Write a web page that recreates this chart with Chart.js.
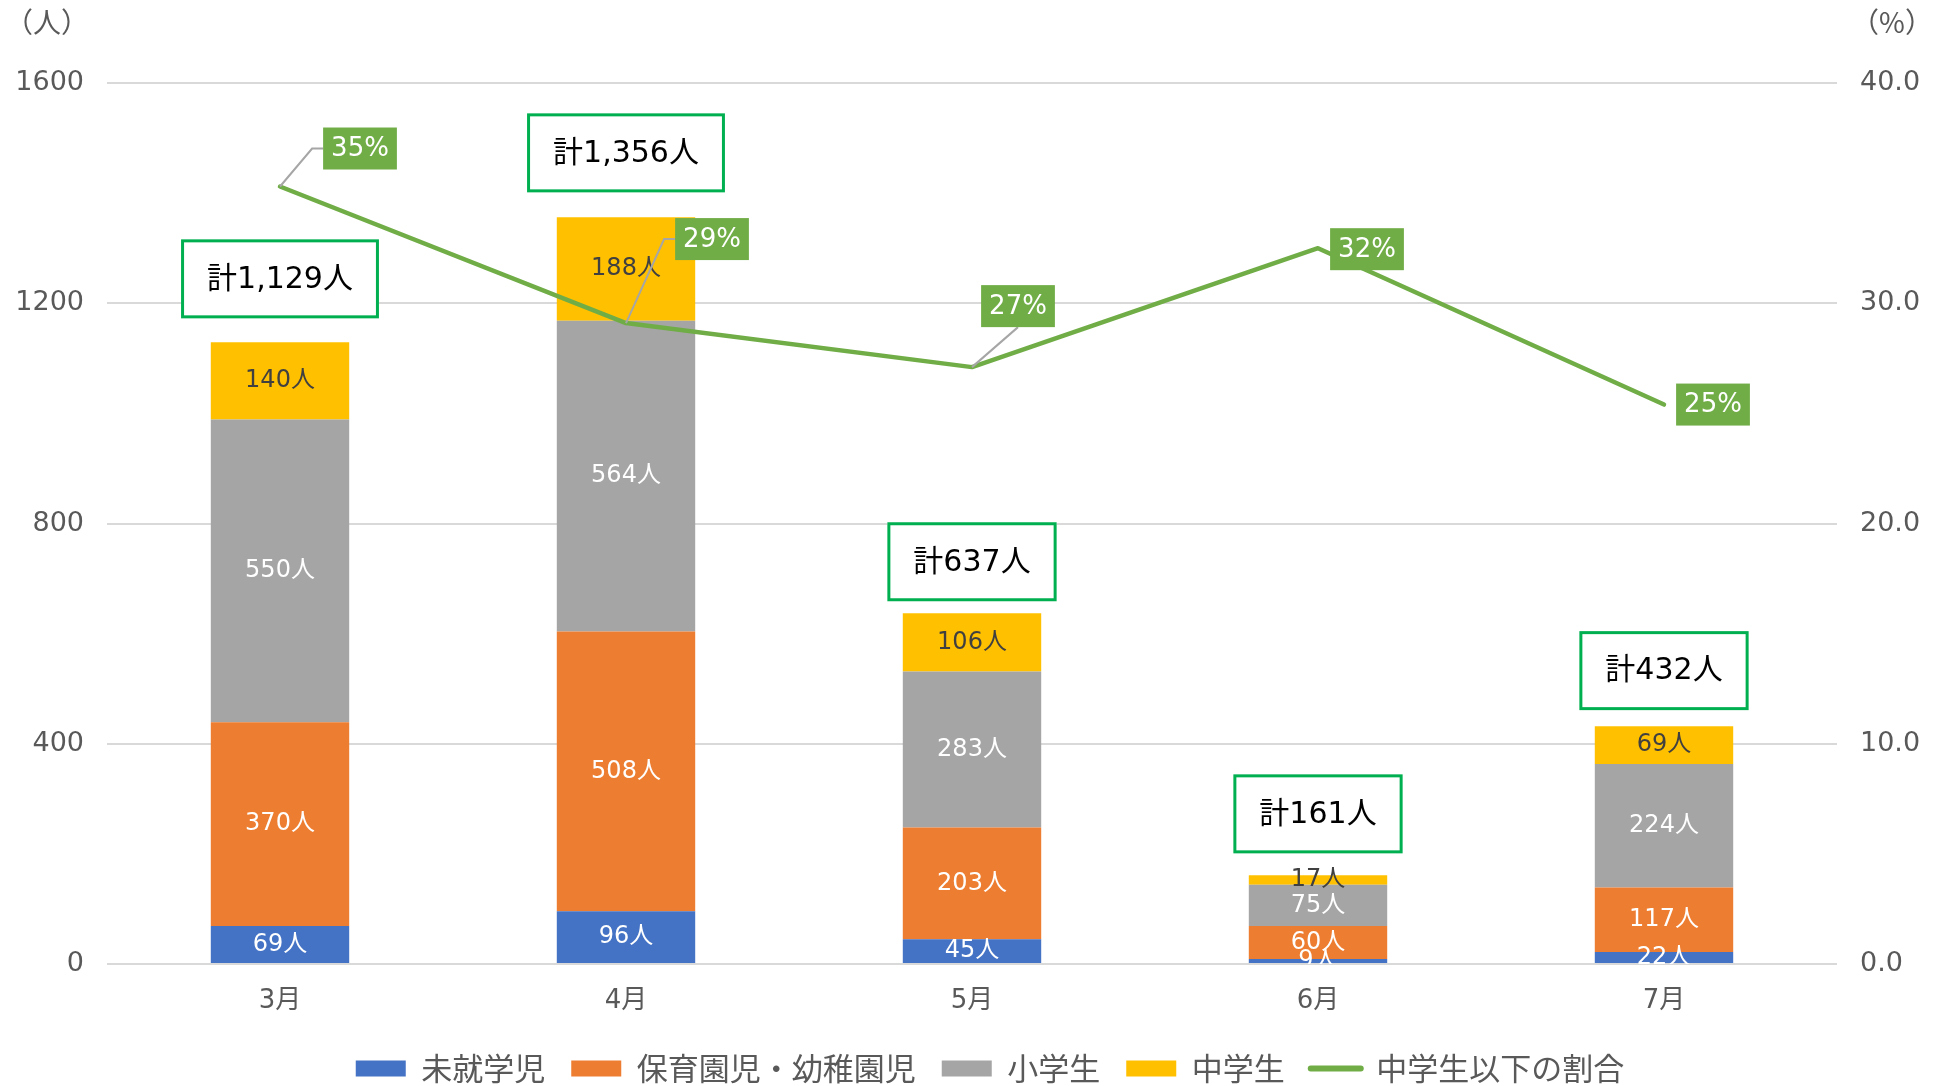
<!DOCTYPE html>
<html>
<head>
<meta charset="utf-8">
<script src="https://cdn.jsdelivr.net/npm/chart.js@4"></script>
<style>
  html, body { margin: 0; padding: 0; background: #fff; }
</style>
</head>
<body>
<canvas id="chart" width="1944" height="1086"></canvas>
<script>
const months = ['3月', '4月', '5月', '6月', '7月']
const preschool = [69, 96, 45, 9, 22]
const nursery = [370, 508, 203, 60, 117]
const elementary = [550, 564, 283, 75, 224]
const juniorHigh = [140, 188, 106, 17, 69]
const ratio = [35.3, 29.1, 27.1, 32.5, 25.4]
const ratioLabels = ['35%', '29%', '27%', '32%', '25%']
const peopleTicks = [0, 400, 800, 1200, 1600]
const percentTicks = [0, 10, 20, 30, 40]

const FONT = '"DejaVu Sans", "Noto Sans CJK JP", sans-serif'
const JP_FONT = '"Noto Sans CJK JP", sans-serif'
const TEXT_GRAY = '#595959'

// gap between each total box and the top of its stack
const totalGaps = [24, 25, 12, 22, 16]

// where each percent box sits relative to its point, and how the leader line attaches
const ratioBoxes = [
  { dx: 80, dy: -38, leader: 'left' },
  { dx: 86, dy: -84, leader: 'left' },
  { dx: 46, dy: -61, leader: 'bottom' },
  { dx: 49, dy: 1, leader: null },
  { dx: 49, dy: 0, leader: null },
]

const labelPlugin = {
  id: 'labels',
  beforeDatasetDraw(chart, args) {
    // segment values, drawn before the line so it sits on top
    if (chart.data.datasets[args.index].type !== 'line') return
    const { ctx, chartArea } = chart
    ctx.save()
    ctx.beginPath()
    ctx.rect(chartArea.left, chartArea.top, chartArea.width, chartArea.height)
    ctx.clip()
    ctx.font = `24px ${FONT}`
    ctx.textAlign = 'center'
    ctx.textBaseline = 'middle'
    chart.data.datasets.forEach((ds, i) => {
      if (ds.type === 'line') return
      const meta = chart.getDatasetMeta(i)
      meta.data.forEach((bar, j) => {
        ctx.fillStyle = ds.labelColor
        ctx.fillText(ds.data[j] + '人', bar.x, (bar.y + bar.base) / 2)
      })
    })
    ctx.restore()
  },
  afterDatasetsDraw(chart) {
    const { ctx, scales } = chart
    ctx.save()
    ctx.textAlign = 'center'
    ctx.textBaseline = 'middle'

    // total boxes above each stack
    const barMeta = chart.getDatasetMeta(0)
    months.forEach((m, j) => {
      const total = preschool[j] + nursery[j] + elementary[j] + juniorHigh[j]
      const text = '計' + total.toLocaleString('en-US') + '人'
      const top = scales.y.getPixelForValue(total)
      ctx.font = `30px ${FONT}`
      const w = ctx.measureText(text).width + 52
      const h = 79
      const cx = barMeta.data[j].x
      const cy = top - totalGaps[j] - h / 2
      ctx.fillStyle = '#fff'
      ctx.fillRect(cx - w / 2, cy - h / 2, w, h)
      ctx.strokeStyle = '#00B050'
      ctx.lineWidth = 3
      ctx.strokeRect(cx - w / 2 + 1.5, cy - h / 2 + 1.5, w - 3, h - 3)
      ctx.fillStyle = '#000'
      ctx.fillText(text, cx, cy + 1)
    })

    // percent boxes on the line
    const lineIndex = chart.data.datasets.findIndex((d) => d.type === 'line')
    const lineMeta = chart.getDatasetMeta(lineIndex)
    lineMeta.data.forEach((pt, j) => {
      const pos = ratioBoxes[j]
      ctx.font = `26px ${FONT}`
      const w = ctx.measureText(ratioLabels[j]).width + 16
      const h = 42
      const cx = pt.x + pos.dx
      const cy = pt.y + pos.dy
      if (pos.leader) {
        ctx.strokeStyle = '#A6A6A6'
        ctx.lineWidth = 2
        ctx.beginPath()
        ctx.moveTo(pt.x, pt.y)
        if (pos.leader === 'left') {
          ctx.lineTo(cx - w / 2 - 11, cy)
          ctx.lineTo(cx - w / 2, cy)
        } else {
          ctx.lineTo(cx, cy + h / 2)
        }
        ctx.stroke()
      }
      ctx.fillStyle = '#70AD47'
      ctx.fillRect(cx - w / 2, cy - h / 2, w, h)
      ctx.fillStyle = '#fff'
      ctx.fillText(ratioLabels[j], cx, cy + 1)
    })
    ctx.restore()
  },
  afterDraw(chart) {
    const { ctx } = chart
    ctx.save()
    ctx.font = `28px ${JP_FONT}`
    ctx.fillStyle = TEXT_GRAY
    ctx.textAlign = 'center'
    ctx.textBaseline = 'middle'
    ctx.fillText('（人）', 47, 22)
    ctx.fillText('（%）', 1892, 22)
    ctx.restore()
  },
}

const ctx = document.getElementById('chart').getContext('2d')
const chart = new Chart(ctx, {
  type: 'bar',
  data: {
    labels: months,
    datasets: [
      { label: '未就学児', data: preschool, backgroundColor: '#4472C4', labelColor: '#fff', order: 1 },
      { label: '保育園児・幼稚園児', data: nursery, backgroundColor: '#ED7D31', labelColor: '#fff', order: 1 },
      { label: '小学生', data: elementary, backgroundColor: '#A5A5A5', labelColor: '#fff', order: 1 },
      { label: '中学生', data: juniorHigh, backgroundColor: '#FFC000', labelColor: '#404040', order: 1 },
      {
        type: 'line',
        label: '中学生以下の割合',
        data: ratio,
        yAxisID: 'y2',
        borderColor: '#70AD47',
        borderWidth: 4.5,
        borderCapStyle: 'round',
        borderJoinStyle: 'round',
        pointRadius: 0,
        tension: 0,
        order: 0,
      },
    ],
  },
  options: {
    responsive: false,
    animation: false,
    // negative right/bottom padding nudges the legend to where the original sits
    layout: { padding: { top: 83, bottom: -8, left: 0, right: -36 } },
    datasets: {
      bar: { barPercentage: 0.4, categoryPercentage: 1.0, borderWidth: 0 },
    },
    scales: {
      x: {
        stacked: true,
        grid: { display: false },
        border: { display: false },
        ticks: { color: TEXT_GRAY, font: { family: FONT, size: 26 }, padding: 14 },
        afterFit: (axis) => { axis.height = 63 },
      },
      y: {
        stacked: true,
        min: 0,
        max: 1600,
        afterBuildTicks: (axis) => { axis.ticks = peopleTicks.map((v) => ({ value: v })) },
        grid: { color: '#D9D9D9', lineWidth: 2, drawTicks: false },
        border: { display: false },
        ticks: {
          color: TEXT_GRAY,
          font: { family: FONT, size: 27 },
          padding: 23,
          callback: (v) => String(v),
        },
        afterFit: (axis) => { axis.width = 107 },
      },
      y2: {
        position: 'right',
        min: 0,
        max: 40,
        afterBuildTicks: (axis) => { axis.ticks = percentTicks.map((v) => ({ value: v })) },
        grid: { display: false, drawTicks: false },
        border: { display: false },
        ticks: {
          color: TEXT_GRAY,
          font: { family: FONT, size: 27 },
          padding: 23,
          callback: (v) => Number(v).toFixed(1),
        },
        afterFit: (axis) => { axis.width = 143 },
      },
    },
    plugins: {
      tooltip: { enabled: false },
      legend: {
        position: 'bottom',
        labels: {
          usePointStyle: true,
          pointStyleWidth: 50,
          boxHeight: 16,
          padding: 26,
          color: TEXT_GRAY,
          font: { family: JP_FONT, size: 31 },
          generateLabels: (chart) => chart.data.datasets.map((ds, i) => {
            const isLine = ds.type === 'line'
            return {
              text: ds.label,
              fillStyle: isLine ? ds.borderColor : ds.backgroundColor,
              strokeStyle: isLine ? ds.borderColor : ds.backgroundColor,
              lineWidth: isLine ? 6 : 0,
              lineCap: 'round',
              pointStyle: isLine ? 'line' : 'rect',
              fontColor: TEXT_GRAY,
              hidden: false,
              datasetIndex: i,
            }
          }),
        },
      },
    },
  },
  plugins: [labelPlugin],
})
</script>
</body>
</html>
